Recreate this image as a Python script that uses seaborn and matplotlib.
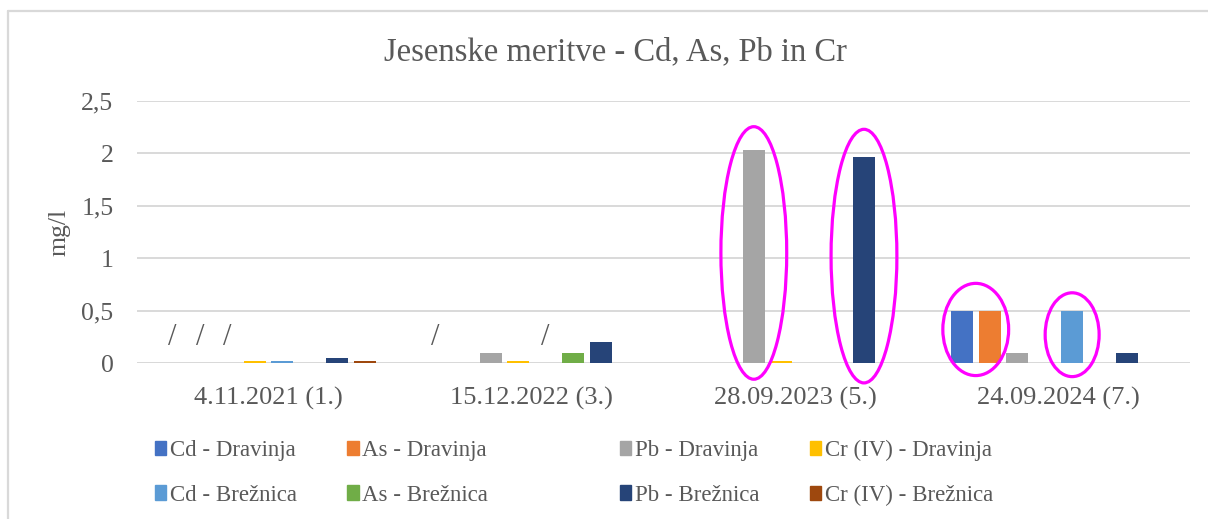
import numpy as np
import pandas as pd
import matplotlib
matplotlib.use("Agg")
import matplotlib.pyplot as plt
from matplotlib.patches import Ellipse
from matplotlib.lines import Line2D
import seaborn as sns

# Sampling dates (autumn measurements)
dates = ["4.11.2021 (1.)", "15.12.2022 (3.)", "28.09.2023 (5.)", "24.09.2024 (7.)"]

series = ["Cd - Dravinja", "As - Dravinja", "Pb - Dravinja", "Cr (IV) - Dravinja",
          "Cd - Brežnica", "As - Brežnica", "Pb - Brežnica", "Cr (IV) - Brežnica"]

# Concentrations in mg/l (NaN = no bar)
cd_dravinja = [np.nan, np.nan, np.nan, 0.5]
as_dravinja = [np.nan, np.nan, np.nan, 0.5]
pb_dravinja = [np.nan, 0.1, 2.03, 0.1]
cr_dravinja = [0.02, 0.02, 0.02, np.nan]
cd_breznica = [0.02, np.nan, np.nan, 0.5]
as_breznica = [np.nan, 0.1, np.nan, np.nan]
pb_breznica = [0.05, 0.2, 1.97, 0.1]
cr_breznica = [0.02, np.nan, np.nan, np.nan]

# Values not measured, shown with a "/" (date index, series index)
not_measured = [(0, 0), (0, 1), (0, 2), (1, 0), (1, 4)]

# Highlighted bars (date index, first series index, last series index)
highlights = [(2, 2, 2), (2, 6, 6), (3, 0, 1), (3, 4, 4)]
# Ring geometry for each highlight: width, height, vertical centre (data units)
ring_shapes = [(0.25, 2.41, 1.05), (0.25, 2.42, 1.02),
               (0.25, 0.88, 0.32), (0.205, 0.80, 0.27)]

colors = ["#4472C4", "#ED7D31", "#A5A5A5", "#FFC000",
          "#5B9BD5", "#70AD47", "#264478", "#9E480E"]

values = [cd_dravinja, as_dravinja, pb_dravinja, cr_dravinja,
          cd_breznica, as_breznica, pb_breznica, cr_breznica]
rows = []
for s, vals in zip(series, values):
    for d, v in zip(dates, vals):
        rows.append({"date": d, "series": s, "value": v})
df = pd.DataFrame(rows).dropna()

sns.set_theme(style="white")
plt.rcParams["font.family"] = ["Liberation Serif", "DejaVu Serif"]
text_color = "#595959"
grid_color = "#D9D9D9"

fig = plt.figure(figsize=(12.08, 5.19), dpi=100)
ax = fig.add_axes([137 / 1208, 1 - 363 / 519, (1190 - 137) / 1208, (363 - 101) / 519])

W = 0.837
sns.barplot(data=df, x="date", y="value", hue="series", order=dates,
            hue_order=series, palette=colors, width=W, gap=0.2,
            saturation=1, errorbar=None, ax=ax, linewidth=0, zorder=3)

ax.set_xlim(-0.5, len(dates) - 0.5)
ax.set_ylim(0, 2.5)
ax.set_yticks([0, 0.5, 1, 1.5, 2, 2.5])
ax.set_yticklabels(["0", "0,5", "1", "1,5", "2", "2,5"])
ax.yaxis.grid(True, color=grid_color, linewidth=1.4, zorder=0)
ax.set_axisbelow(True)
for sp in ax.spines.values():
    sp.set_visible(False)
ax.axhline(0, color=grid_color, linewidth=1.4, zorder=1)
ax.tick_params(axis="both", length=0, labelcolor=text_color)
ax.tick_params(axis="x", pad=17, labelsize=19)
ax.tick_params(axis="y", pad=17, labelsize=18.5)
ax.set_xlabel("")
ax.set_ylabel("mg/l", fontsize=18.5, color=text_color, labelpad=8)

n = len(series)
pitch = W / n


def slot_x(g, s):
    return g - W / 2 + pitch * (s + 0.5)


for g, s in not_measured:
    ax.text(slot_x(g, s), 0.24, "/", ha="center", va="center",
            fontsize=22, color=text_color, zorder=4)

for (g, s0, s1), (w, h, cy) in zip(highlights, ring_shapes):
    cx = (slot_x(g, s0) + slot_x(g, s1)) / 2
    ax.add_patch(Ellipse((cx, cy), w, h, fill=False, edgecolor="#FF00FF",
                         linewidth=2.3, clip_on=False, zorder=5))

ax.legend_.remove()
handles = [plt.Rectangle((0, 0), 1, 1, color=c) for c in colors]
leg_kw = dict(ncol=2, frameon=False, fontsize=16.5, handlelength=0.5,
              handleheight=0.6, handletextpad=0.15, columnspacing=2.2,
              labelspacing=1.03, borderpad=0, borderaxespad=0,
              labelcolor=text_color, loc="upper left")
idx_a = [0, 4, 1, 5]
idx_b = [2, 6, 3, 7]
leg_a = fig.legend([handles[i] for i in idx_a], [series[i] for i in idx_a],
                   bbox_to_anchor=(155 / 1208, 1 - 440 / 519), **leg_kw)
leg_b = fig.legend([handles[i] for i in idx_b], [series[i] for i in idx_b],
                   bbox_to_anchor=(620 / 1208, 1 - 440 / 519), **leg_kw)

fig.text(615 / 1208, 1 - 52 / 519, "Jesenske meritve - Cd, As, Pb in Cr",
         ha="center", va="center", fontsize=23.5, color=text_color)

# Chart frame
fig.add_artist(Line2D([8 / 1208, 8 / 1208], [0, 1 - 11 / 519],
                      transform=fig.transFigure, color=grid_color, linewidth=1.6))
fig.add_artist(Line2D([8 / 1208, 1], [1 - 11 / 519, 1 - 11 / 519],
                      transform=fig.transFigure, color=grid_color, linewidth=1.6))

fig.savefig("out.png", dpi=100, facecolor="white")
